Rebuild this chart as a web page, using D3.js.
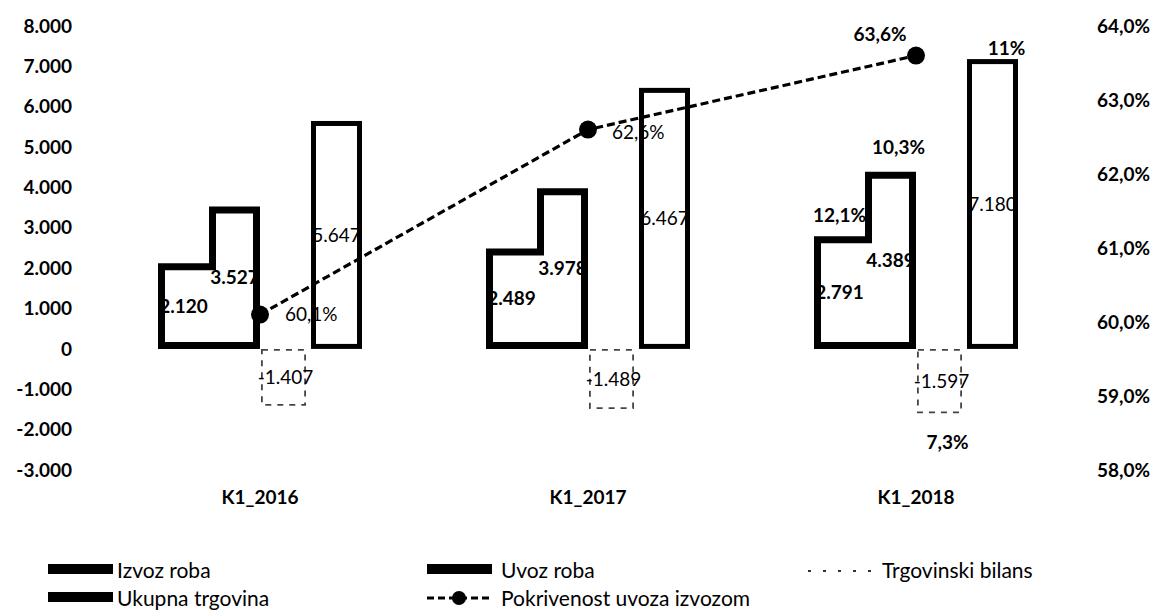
<!DOCTYPE html>
<html>
<head>
<meta charset="utf-8">
<script src="https://cdn.jsdelivr.net/npm/d3@7"></script>
<style>
  body { margin: 0; background: #fff; }
  svg { display: block; font-family: Lato, "Open Sans", sans-serif; }
</style>
</head>
<body>
<svg width="1165" height="612"></svg>
<script>
const categories = ['K1_2016', 'K1_2017', 'K1_2018'];
const izvoz = [2120, 2489, 2791];
const uvoz = [3527, 3978, 4389];
const bilans = [-1407, -1489, -1597];
const ukupno = [5647, 6467, 7180];
const pokrivenost = [60.1, 62.6, 63.6];
// growth rates shown only for the last quarter (izvoz, uvoz, bilans, ukupno)
const rast2018 = [12.1, 10.3, 7.3, 11];
const leftTicks = [-3000, -2000, -1000, 0, 1000, 2000, 3000, 4000, 5000, 6000, 7000, 8000];
const rightTicks = [58, 59, 60, 61, 62, 63, 64];

const series = [
  { key: 'izvoz', name: 'Izvoz roba', values: izvoz },
  { key: 'uvoz', name: 'Uvoz roba', values: uvoz },
  { key: 'bilans', name: 'Trgovinski bilans', values: bilans },
  { key: 'ukupno', name: 'Ukupna trgovina', values: ukupno }
];

const locale = d3.formatLocale({ decimal: ',', thousands: '.', grouping: [3], currency: ['', ''], minus: '-' });
const fmtNum = locale.format(',');
const fmtPct = v => locale.format('.1f')(v) + '%';
const fmtRast = v => locale.format('.1~f')(v) + '%';

const svg = d3.select('svg');
const ink = '#000';

const x0 = d3.scaleBand().domain(categories).range([96, 1080]);
const x1 = d3.scaleBand().domain(series.map(s => s.key)).range([-102, 102]);
const y = d3.scaleLinear().domain([-3000, 8000]).range([470, 26]);
const yR = d3.scaleLinear().domain([58, 64]).range([470, 26]);
const cx = c => x0(c) + x0.bandwidth() / 2;
const bw = x1.bandwidth();

// axes (labels only)
const leftAxis = svg.append('g').attr('transform', 'translate(72,0)')
  .call(d3.axisLeft(y).tickValues(leftTicks).tickSize(0).tickPadding(0).tickFormat(fmtNum));
const rightAxis = svg.append('g').attr('transform', 'translate(1097,0)')
  .call(d3.axisRight(yR).tickValues(rightTicks).tickSize(0).tickPadding(0).tickFormat(fmtPct));
const bottomAxis = svg.append('g').attr('transform', 'translate(0,490)')
  .call(d3.axisBottom(x0).tickSize(0).tickPadding(0));
[leftAxis, rightAxis, bottomAxis].forEach(g => {
  g.select('.domain').remove();
  g.selectAll('text').attr('fill', ink).style('font-size', '19px').style('font-weight', 700)
    .style('font-family', 'Lato, sans-serif');
});

const strokeW = { izvoz: 7, uvoz: 7, bilans: 1.8, ukupno: 5 };
const rows = series.flatMap(s => categories.map((c, i) => ({ key: s.key, cat: c, value: s.values[i], i })));
const barX = d => cx(d.cat) + x1(d.key);

const bars = svg.append('g');

// izvoz + uvoz share one outline (L shape), as in the original
const sw = strokeW.izvoz, h = sw / 2;
bars.selectAll('path.pair').data(categories).enter().append('path')
  .attr('class', 'pair')
  .attr('d', (c, i) => {
    const xL = cx(c) + x1('izvoz'), xM = xL + bw, xR = cx(c) + x1('uvoz') + bw;
    const yI = y(izvoz[i]), yU = y(uvoz[i]), yZ = y(0);
    const p = d3.path();
    p.moveTo(xL + h, yZ - h);
    p.lineTo(xL + h, yI + h);
    p.lineTo(xM + h, yI + h);
    p.lineTo(xM + h, yU + h);
    p.lineTo(xR - h, yU + h);
    p.lineTo(xR - h, yZ - h);
    p.closePath();
    return p.toString();
  })
  .attr('fill', 'none')
  .attr('stroke', ink)
  .attr('stroke-width', sw)
  .attr('stroke-linejoin', 'miter');

const single = rows.filter(d => d.key === 'bilans' || d.key === 'ukupno');
bars.selectAll('rect').data(single).enter().append('rect')
  .attr('x', d => barX(d) + strokeW[d.key] / 2 + (d.key === 'bilans' ? 1 : 0))
  .attr('y', d => y(Math.max(0, d.value)) + strokeW[d.key] / 2)
  .attr('width', d => bw - strokeW[d.key] - (d.key === 'bilans' ? 6 : 0))
  .attr('height', d => Math.abs(y(d.value) - y(0)) - strokeW[d.key])
  .attr('fill', 'none')
  .attr('stroke', d => d.key === 'bilans' ? '#444' : ink)
  .attr('stroke-width', d => strokeW[d.key])
  .attr('stroke-dasharray', d => d.key === 'bilans' ? '6,6' : null);

bars.selectAll('text').data(rows).enter().append('text')
  .attr('x', d => barX(d) + bw / 2)
  .attr('y', d => (y(d.value) + y(0)) / 2)
  .attr('dy', '0.35em')
  .attr('text-anchor', 'middle')
  .attr('fill', ink)
  .style('font-size', '19px')
  .style('font-weight', d => (d.key === 'izvoz' || d.key === 'uvoz') ? 700 : 400)
  .text(d => fmtNum(d.value));

// growth labels for K1_2018, nudged like the original
const rastOffsets = [[0, -21], [8, -24], [6, 29], [14, -11]];
const last = categories[categories.length - 1];
svg.append('g').selectAll('text').data(series).enter().append('text')
  .attr('x', (s, i) => cx(last) + x1(s.key) + bw / 2 + rastOffsets[i][0])
  .attr('y', (s, i) => y(s.values[2]) + rastOffsets[i][1])
  .attr('dy', '0.35em')
  .attr('text-anchor', 'middle')
  .attr('fill', ink)
  .style('font-size', '19px')
  .style('font-weight', 700)
  .text((s, i) => fmtRast(rast2018[i]));

// coverage line
const line = d3.line().x((v, i) => cx(categories[i])).y(v => yR(v));
svg.append('path').datum(pokrivenost)
  .attr('d', line)
  .attr('fill', 'none')
  .attr('stroke', ink)
  .attr('stroke-width', 3.2)
  .attr('stroke-dasharray', '8,4');
svg.append('g').selectAll('circle').data(pokrivenost).enter().append('circle')
  .attr('cx', (v, i) => cx(categories[i]))
  .attr('cy', v => yR(v))
  .attr('r', 9)
  .attr('fill', ink);

const lineOffsets = [[25, 0, 'start'], [24, 3, 'start'], [-36, -21, 'middle']];
svg.append('g').selectAll('text').data(pokrivenost).enter().append('text')
  .attr('x', (v, i) => cx(categories[i]) + lineOffsets[i][0])
  .attr('y', (v, i) => yR(v) + lineOffsets[i][1])
  .attr('dy', '0.35em')
  .attr('text-anchor', (v, i) => lineOffsets[i][2])
  .attr('fill', ink)
  .style('font-size', '19px')
  .style('font-weight', (v, i) => i === 2 ? 700 : 400)
  .text(v => fmtPct(v));

// legend
const legendItems = [
  { name: 'Izvoz roba', type: 'bar', col: 0, row: 0 },
  { name: 'Uvoz roba', type: 'bar', col: 1, row: 0 },
  { name: 'Trgovinski bilans', type: 'dash', col: 2, row: 0 },
  { name: 'Ukupna trgovina', type: 'bar', col: 0, row: 1 },
  { name: 'Pokrivenost uvoza izvozom', type: 'line', col: 1, row: 1 }
];
const legendX = [48, 427, 808];
const legendY = [572, 600];
const legend = svg.append('g').selectAll('g').data(legendItems).enter().append('g')
  .attr('transform', d => `translate(${legendX[d.col]},${legendY[d.row]})`);

legend.filter(d => d.type === 'bar').append('rect')
  .attr('x', 0).attr('y', -8).attr('width', 65).attr('height', 10).attr('fill', ink);
legend.filter(d => d.type === 'dash').append('line')
  .attr('x1', 0).attr('x2', 65).attr('y1', -1).attr('y2', -1)
  .attr('stroke', '#333').attr('stroke-width', 1.8).attr('stroke-dasharray', '3,12');
const lg = legend.filter(d => d.type === 'line');
lg.append('line')
  .attr('x1', 0).attr('x2', 65).attr('y1', -2).attr('y2', -2)
  .attr('stroke', ink).attr('stroke-width', 3.2).attr('stroke-dasharray', '7,4');
lg.append('circle').attr('cx', 32).attr('cy', -2).attr('r', 7).attr('fill', ink);

legend.append('text')
  .attr('x', d => d.col === 0 ? 69 : 74)
  .attr('y', 0)
  .attr('dy', '0.3em')
  .attr('fill', ink)
  .style('font-size', '21px')
  .text(d => d.name);
</script>
</body>
</html>
